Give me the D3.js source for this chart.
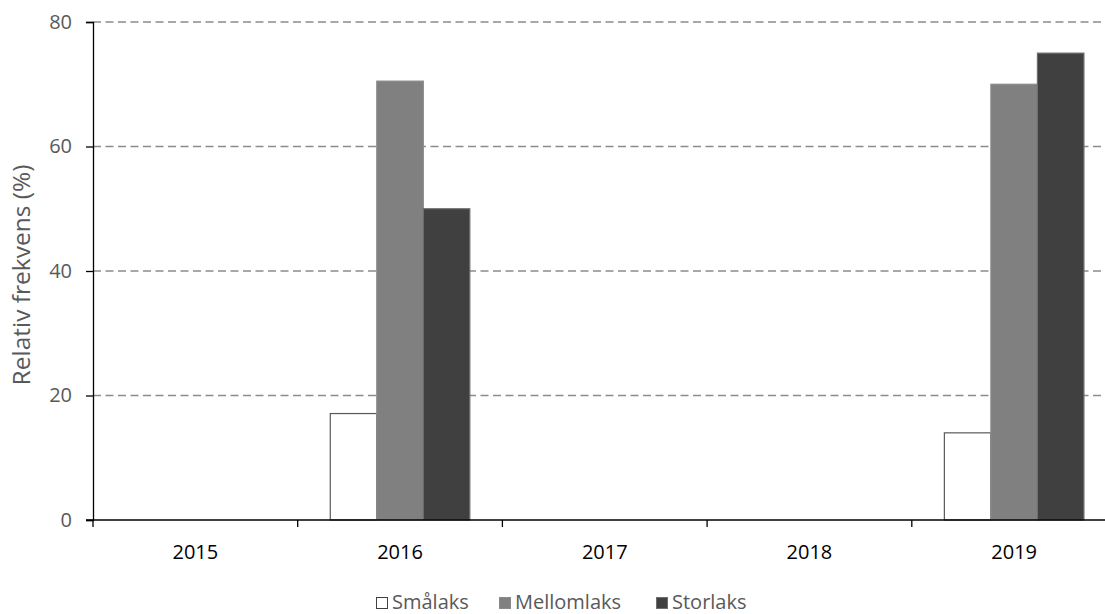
<!DOCTYPE html>
<html>
<head>
<meta charset="utf-8">
<script src="https://cdn.jsdelivr.net/npm/d3@7"></script>
<style>
  html, body { margin: 0; padding: 0; background: #fff; }
  svg { display: block; }
  text { font-family: "Open Sans", "Liberation Sans", sans-serif; fill: #595959; }
</style>
</head>
<body>
<svg id="chart" width="1105" height="614"></svg>
<script>
// Relative frequency per size class and year
const years = ["2015", "2016", "2017", "2018", "2019"];
const seriesNames = ["Smålaks", "Mellomlaks", "Storlaks"];
const smalaks = [0, 17.1, 0, 0, 14];
const mellomlaks = [0, 70.5, 0, 0, 70];
const storlaks = [0, 50, 0, 0, 75];
const yTicks = [0, 20, 40, 60, 80];

const seriesValues = [smalaks, mellomlaks, storlaks];
const fills = ["#ffffff", "#808080", "#404040"];
const strokes = ["#595959", "#8a8a8a", "#6e6e6e"];

const svg = d3.select("#chart");
const plotLeft = 93, plotTop = 22, plotBottom = 520;
const catW = 204.7;
const plotRight = plotLeft + catW * years.length;
const fontFamily = "'Open Sans', 'Liberation Sans', sans-serif";

const x = d3.scaleBand().domain(years).range([plotLeft, plotRight]).paddingInner(0).paddingOuter(0);
const inner = d3.scaleBand().domain(seriesNames).range([0, x.bandwidth()]).paddingOuter(0.7).paddingInner(0);
const y = d3.scaleLinear().domain([0, 80]).range([plotBottom, plotTop]);

// dashed horizontal gridlines
svg.append("g")
  .selectAll("line")
  .data(yTicks.filter(d => d > 0))
  .join("line")
  .attr("x1", plotLeft).attr("x2", plotRight)
  .attr("y1", d => y(d)).attr("y2", d => y(d))
  .attr("stroke", "#8c8c8c")
  .attr("stroke-width", 1.4)
  .attr("stroke-dasharray", "8,4.5");

// bars
const groups = svg.append("g")
  .selectAll("g")
  .data(seriesNames.map((name, i) => ({ name, i, values: seriesValues[i] })))
  .join("g");

groups.selectAll("rect")
  .data(s => s.values.map((v, j) => ({ v, year: years[j], s })).filter(d => d.v > 0))
  .join("rect")
  .attr("x", d => x(d.year) + inner(d.s.name))
  .attr("width", inner.bandwidth())
  .attr("y", d => y(d.v))
  .attr("height", d => plotBottom - y(d.v))
  .attr("fill", d => fills[d.s.i])
  .attr("stroke", d => strokes[d.s.i])
  .attr("stroke-width", 1.2);

// y axis
const yAxis = d3.axisLeft(y).tickValues(yTicks).tickSize(7).tickPadding(14);
const gy = svg.append("g").attr("transform", `translate(${plotLeft},0)`).call(yAxis);
gy.select(".domain").attr("stroke", "#000").attr("stroke-width", 1.3);
gy.selectAll(".tick line").attr("stroke", "#000").attr("stroke-width", 1.3);
gy.selectAll(".tick text").style("font-size", "20px").attr("fill", "#595959")
  .style("font-family", fontFamily);

// x axis with ticks at category boundaries
const gx = svg.append("g").attr("transform", `translate(0,${plotBottom})`);
gx.append("line").attr("x1", plotLeft - 7).attr("x2", plotRight).attr("y1", 0).attr("y2", 0)
  .attr("stroke", "#000").attr("stroke-width", 1.3);
gx.selectAll(".bnd")
  .data(years)
  .join("line")
  .attr("class", "bnd")
  .attr("x1", d => x(d)).attr("x2", d => x(d))
  .attr("y1", 0).attr("y2", 7)
  .attr("stroke", "#000").attr("stroke-width", 1.3);
gx.selectAll(".lbl")
  .data(years)
  .join("text")
  .attr("class", "lbl")
  .attr("x", d => x(d) + x.bandwidth() / 2)
  .attr("y", 39)
  .attr("text-anchor", "middle")
  .style("font-size", "20px")
  .style("fill", "#000")
  .text(d => d);

// y axis title
svg.append("text")
  .attr("transform", "translate(30,275) rotate(-90)")
  .attr("text-anchor", "middle")
  .style("font-size", "24.5px")
  .text("Relativ frekvens (%)");

// legend
const legendX = [376, 499, 656];
const legend = svg.append("g")
  .selectAll("g")
  .data(seriesNames)
  .join("g")
  .attr("transform", (d, i) => `translate(${legendX[i]},597)`);
legend.append("rect")
  .attr("x", 0.5).attr("y", 0.5).attr("width", 11).attr("height", 11)
  .attr("fill", (d, i) => fills[i])
  .attr("stroke", (d, i) => i === 0 ? "#404040" : strokes[i]);
legend.append("text")
  .attr("x", 16).attr("y", 12)
  .style("font-size", "20px")
  .text(d => d);
</script>
</body>
</html>
